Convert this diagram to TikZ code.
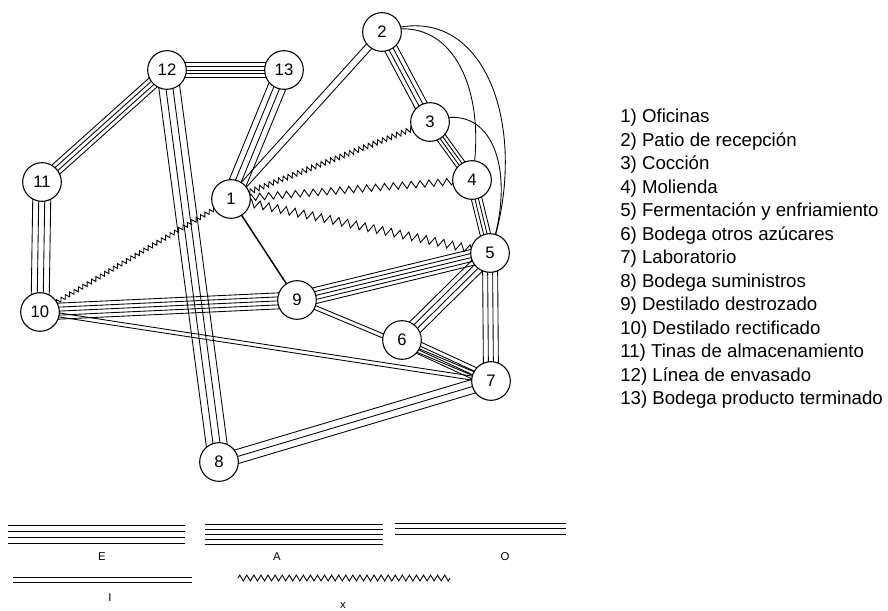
\documentclass[tikz,border=0pt]{standalone}
\usepackage{fontspec}
\setmainfont{Liberation Sans}
\usetikzlibrary{calc,decorations.pathmorphing,backgrounds}
\tikzset{
  stn/.style={circle,draw,line width=0.8pt,fill=white,minimum size=29pt,inner sep=0pt,font=\fontsize{12.5}{12.5}\selectfont},
  lnk/.style={line width=0.65pt},
  olnk/.style={line width=1.1pt},
  zzl/.style n args={2}{decorate,decoration={zigzag,segment length=#1,amplitude=#2},line width=0.65pt},
  legtxt/.style={font=\fontsize{8.5}{8.5}\selectfont,inner sep=0pt},
  lst/.style={anchor=west,font=\fontsize{14}{14}\selectfont,inner sep=0pt},
}
\newcommand\plines[4]{%
  \foreach \k in {1,...,#1}{%
    \pgfmathsetmacro\off{(\k-(#1+1)/2)*#2*0.75}%
    \draw[lnk] ($(#3.center)!\off pt!90:(#4.center)$) -- ($(#4.center)!\off pt!-90:(#3.center)$);
  }}
\begin{document}
\begin{tikzpicture}[x=0.75pt,y=-0.75pt]
\useasboundingbox (0,0) rectangle (888,610);
% stations
\node[stn] (n1) at (231,199) {1};
\node[stn] (n2) at (382,32) {2};
\node[stn] (n3) at (430,122) {3};
\node[stn] (n4) at (472,180) {4};
\node[stn] (n5) at (490,253) {5};
\node[stn] (n6) at (402,340) {6};
\node[stn] (n7) at (491,381) {7};
\node[stn] (n8) at (219,462) {8};
\node[stn] (n9) at (297,300) {9};
\node[stn] (n10) at (40,312) {10};
\node[stn] (n11) at (42,182) {11};
\node[stn] (n12) at (167,70) {12};
\node[stn] (n13) at (284,70) {13};
\begin{scope}[on background layer]
  % A
  \plines{5}{3.7}{n12}{n13}
  \plines{5}{4}{n10}{n9}
  \plines{5}{4}{n9}{n5}
  % E
  \plines{4}{4}{n12}{n11}
  \plines{4}{6}{n11}{n10}
  \plines{4}{7}{n12}{n8}
  \plines{4}{6}{n13}{n1}
  \plines{4}{4.4}{n2}{n3}
  \plines{4}{3.3}{n3}{n4}
  \plines{4}{3.5}{n4}{n5}
  \plines{4}{5}{n5}{n6}
  \plines{4}{5}{n5}{n7}
  \plines{4}{4}{n6}{n7}
  % O
  \plines{3}{7}{n8}{n7}
  % I
  \plines{2}{7}{n1}{n2}
  \plines{2}{4}{n10}{n7}
  \plines{2}{4}{n9}{n7}
  % single
  \draw[olnk] (n1.center) -- (n9.center);
  % curves
  \draw[lnk] (n2.center) .. controls (485,-5) and (532,130) .. (n5.center);
  \draw[lnk] (n2.center) .. controls (452,12) and (488,90) .. (n4.center);
  \draw[lnk] (n3.center) .. controls (492,98) and (518,170) .. (n5.center);
  % X
  \draw[zzl={3.8pt}{1.9pt}] (n1.center) -- (n3.center);
  \draw[zzl={6.7pt}{2.6pt}] (n1.center) -- (n4.center);
  \draw[zzl={6.7pt}{3pt}] (n1.center) -- (n5.center);
  \draw[zzl={3.8pt}{1.6pt}] (n1.center) -- (n10.center);
\end{scope}
% list
\foreach \t [count=\i] in {1) Oficinas,2) Patio de recepción,3) Cocción,4) Molienda,5) Fermentación y enfriamiento,6) Bodega otros azúcares,7) Laboratorio,8) Bodega suministros,9) Destilado destrozado,10) Destilado rectificado,11) Tinas de almacenamiento,12) Línea de envasado,13) Bodega producto terminado}
  \node[lst] (L\i) at (620,{118+(\i-1)*23.5}) {\t};
% legend
\foreach \y in {525,531,537,543} \draw[lnk] (8,\y) -- (185,\y);
\node[legtxt] (lE) at (102,557) {E};
\foreach \y in {524,529,534,539,544} \draw[lnk] (205,\y) -- (383,\y);
\node[legtxt] (lA) at (277,557) {A};
\foreach \y in {523,528.5,534.5} \draw[lnk] (395,\y) -- (566,\y);
\node[legtxt] (lO) at (505,557) {O};
\foreach \y in {577,582.5} \draw[lnk] (13,\y) -- (192,\y);
\node[legtxt] (lI) at (110,598) {I};
\draw[zzl={5.3pt}{2.2pt}] (238,578) -- (450,578);
\node[legtxt] (lX) at (343,605) {x};
\end{tikzpicture}
\end{document}
